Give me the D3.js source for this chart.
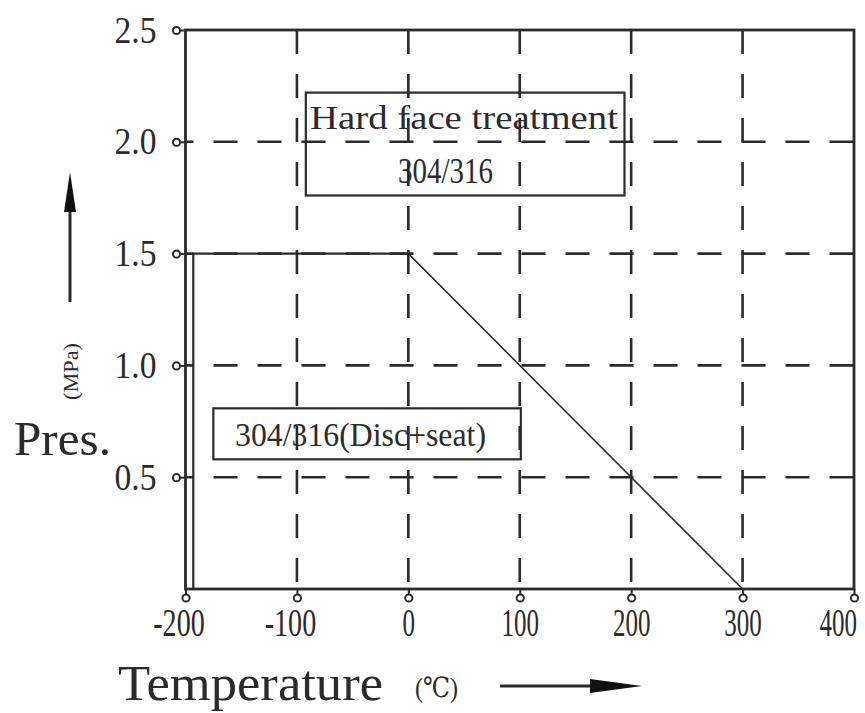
<!DOCTYPE html>
<html>
<head>
<meta charset="utf-8">
<script src="https://cdn.jsdelivr.net/npm/d3@7/dist/d3.min.js"></script>
<style>
  html, body { margin: 0; padding: 0; background: #fff; }
  svg { display: block; }
</style>
</head>
<body>
<svg id="chart" width="865" height="713"></svg>
<script>
// ---- data ----
const xTicks = [-200, -100, 0, 100, 200, 300, 400];
const yTicks = [0.5, 1.0, 1.5, 2.0, 2.5];
const xGrid = [-100, 0, 100, 200, 300];
const yGrid = [0.5, 1.0, 1.5, 2.0];
const limitTemp = [-193, -193, 0, 300];
const limitPres = [0, 1.5, 1.5, 0];
const box1Lines = ["Hard face treatment", "304/316"];
const box2Label = "304/316(Disc+seat)";
const xTitle = "Temperature";
const xUnit = "(℃)";
const yTitle = "Pres.";
const yUnit = "(MPa)";

// ---- layout ----
const svg = d3.select("#chart");
const ink = "#2b2b2b";
const x = d3.scaleLinear().domain([-200, 400]).range([185.5, 854]);
const y = d3.scaleLinear().domain([0, 2.5]).range([589, 30]);
const serif = "'Liberation Serif', 'Times New Roman', 'DejaVu Serif', serif";

// grid
svg.append("g").selectAll("line").data(xGrid).join("line")
  .attr("x1", d => x(d)).attr("x2", d => x(d))
  .attr("y1", y(2.5)).attr("y2", y(0))
  .attr("stroke", ink).attr("stroke-width", 2.6)
  .attr("stroke-dasharray", "24,20");
svg.append("g").selectAll("line").data(yGrid).join("line")
  .attr("x1", x(-200)).attr("x2", x(400))
  .attr("y1", d => y(d)).attr("y2", d => y(d))
  .attr("stroke", ink).attr("stroke-width", 2.6)
  .attr("stroke-dasharray", "24,20").attr("stroke-dashoffset", 16);

// frame
svg.append("rect")
  .attr("x", x(-200)).attr("y", y(2.5))
  .attr("width", x(400) - x(-200)).attr("height", y(0) - y(2.5))
  .attr("fill", "none").attr("stroke", ink).attr("stroke-width", 2.8);

// limit line
const pts = limitTemp.map((t, i) => [t, limitPres[i]]);
svg.append("path")
  .attr("d", d3.line().x(d => x(d[0])).y(d => y(d[1]))(pts.slice(0, 3)))
  .attr("fill", "none").attr("stroke", ink).attr("stroke-width", 2.2);
svg.append("path")
  .attr("d", d3.line().x(d => x(d[0])).y(d => y(d[1]))(pts.slice(2)))
  .attr("fill", "none").attr("stroke", ink).attr("stroke-width", 1.6);

// x axis
const digitW = 12.5, minusW = 14, vStretch = 1.55;
const gx = svg.append("g").attr("transform", `translate(0,${y(0)})`)
  .call(d3.axisBottom(x).tickValues(xTicks).tickSize(0).tickFormat(d => String(d)));
gx.select(".domain").remove();
gx.selectAll(".tick").append("line")
  .attr("y1", 0).attr("y2", 5).attr("stroke", ink).attr("stroke-width", 2);
gx.selectAll(".tick").append("circle")
  .attr("cy", 9).attr("r", 3.6).attr("fill", "#fff")
  .attr("stroke", ink).attr("stroke-width", 2);
gx.selectAll(".tick text")
  .attr("fill", ink).attr("font-family", serif).attr("font-size", 26)
  .attr("transform", `scale(1,${vStretch})`)
  .attr("y", 47 / vStretch).attr("dy", null)
  .attr("text-anchor", "start")
  .attr("x", d => {
    const n = String(Math.abs(d)).length;
    const shift = d === 400 ? -35 : -(n * digitW / 2);
    return shift - (d < 0 ? minusW : 0);
  })
  .attr("textLength", d => String(Math.abs(d)).length * digitW + (d < 0 ? minusW : 0))
  .attr("lengthAdjust", "spacingAndGlyphs");

// y axis
const gy = svg.append("g").attr("transform", `translate(${x(-200)},0)`)
  .call(d3.axisLeft(y).tickValues(yTicks).tickSize(0).tickFormat(d3.format(".1f")));
gy.select(".domain").remove();
gy.selectAll(".tick").append("line")
  .attr("x1", 0).attr("x2", -5).attr("stroke", ink).attr("stroke-width", 2);
gy.selectAll(".tick").append("circle")
  .attr("cx", -9).attr("r", 3.6).attr("fill", "#fff")
  .attr("stroke", ink).attr("stroke-width", 2);
gy.selectAll(".tick text")
  .attr("fill", ink).attr("font-family", serif).attr("font-size", 38)
  .attr("x", -29).attr("dy", null).attr("y", 12)
  .attr("text-anchor", "end")
  .attr("textLength", 42).attr("lengthAdjust", "spacingAndGlyphs");

// annotation box 1
svg.append("rect")
  .attr("x", x(-92)).attr("y", y(2.22))
  .attr("width", x(194) - x(-92)).attr("height", y(1.76) - y(2.22))
  .attr("fill", "none").attr("stroke", ink).attr("stroke-width", 2.2);
svg.append("text")
  .attr("x", 310).attr("y", 129)
  .attr("font-family", serif).attr("font-size", 34).attr("fill", ink)
  .attr("textLength", 308).attr("lengthAdjust", "spacingAndGlyphs")
  .text(box1Lines[0]);
svg.append("text")
  .attr("x", 398).attr("y", 183)
  .attr("font-family", serif).attr("font-size", 36).attr("fill", ink)
  .attr("textLength", 95).attr("lengthAdjust", "spacingAndGlyphs")
  .text(box1Lines[1]);

// annotation box 2
svg.append("rect")
  .attr("x", x(-175)).attr("y", y(0.808))
  .attr("width", x(101) - x(-175)).attr("height", y(0.58) - y(0.808))
  .attr("fill", "none").attr("stroke", ink).attr("stroke-width", 2.2);
svg.append("text")
  .attr("x", 235).attr("y", 446)
  .attr("font-family", serif).attr("font-size", 34).attr("fill", ink)
  .attr("textLength", 251).attr("lengthAdjust", "spacingAndGlyphs")
  .text(box2Label);

// y title
svg.append("text")
  .attr("x", 14).attr("y", 455)
  .attr("font-family", serif).attr("font-size", 48).attr("fill", ink)
  .attr("textLength", 97).attr("lengthAdjust", "spacingAndGlyphs")
  .text(yTitle);
svg.append("text")
  .attr("transform", "translate(78,400) rotate(-90)")
  .attr("font-family", serif).attr("font-size", 20).attr("fill", ink)
  .attr("textLength", 57).attr("lengthAdjust", "spacingAndGlyphs")
  .text(yUnit);
// up arrow
svg.append("line").attr("x1", 70).attr("x2", 70).attr("y1", 302).attr("y2", 205)
  .attr("stroke", ink).attr("stroke-width", 3);
svg.append("path").attr("d", "M70,172 L76,212 L64,212 Z").attr("fill", "#111");

// x title
svg.append("text")
  .attr("x", 118).attr("y", 700)
  .attr("font-family", serif).attr("font-size", 50).attr("fill", ink)
  .attr("textLength", 265).attr("lengthAdjust", "spacingAndGlyphs")
  .text(xTitle);
svg.append("text")
  .attr("x", 415).attr("y", 697)
  .attr("font-family", serif).attr("font-size", 28).attr("fill", ink)
  .attr("textLength", 43).attr("lengthAdjust", "spacingAndGlyphs")
  .text(xUnit);
// right arrow
svg.append("line").attr("x1", 500).attr("x2", 600).attr("y1", 686).attr("y2", 686)
  .attr("stroke", ink).attr("stroke-width", 3);
svg.append("path").attr("d", "M642,686 L590,679 L590,693 Z").attr("fill", "#111");
</script>
</body>
</html>
